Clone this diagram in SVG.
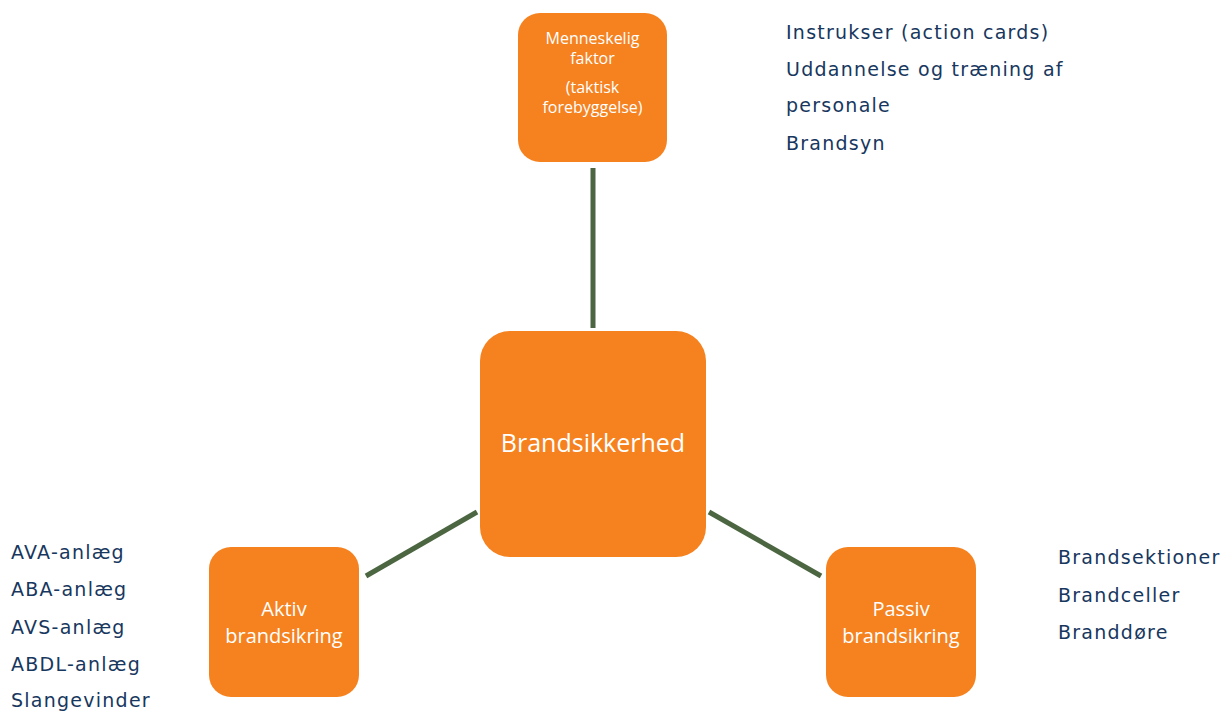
<svg xmlns="http://www.w3.org/2000/svg" width="1224" height="711" viewBox="0 0 1224 711">
<style>
.box{fill:#F5821F;}
.bt{font-family:"Open Sans","Noto Sans",sans-serif;fill:#ffffff;text-anchor:middle;}
.lt{font-family:"DejaVu Sans","Verdana",sans-serif;font-size:19px;letter-spacing:1.25px;fill:#17375E;}
.con{stroke:#4B6641;stroke-width:5;fill:none;}
</style>
<rect width="1224" height="711" fill="#ffffff"/>
<g id="connectors">
<line class="con" x1="593" y1="168" x2="593" y2="328"/>
<line class="con" x1="366" y1="576" x2="477" y2="512"/>
<line class="con" x1="709" y1="512" x2="821" y2="576"/>
</g>
<g id="node-menneskelig">
<rect class="box" x="518" y="13" width="149" height="149" rx="22"/>
<text class="bt" font-size="16"><tspan x="592.5" y="44">Menneskelig</tspan><tspan x="592.5" y="64">faktor</tspan><tspan x="592.5" y="93">(taktisk</tspan><tspan x="592.5" y="113">forebyggelse)</tspan></text>
</g>
<g id="node-brandsikkerhed">
<rect class="box" x="480" y="331" width="226" height="226" rx="30"/>
<text class="bt" font-size="25" x="593" y="452">Brandsikkerhed</text>
</g>
<g id="node-aktiv">
<rect class="box" x="209" y="547" width="150" height="150" rx="22"/>
<text class="bt" font-size="20"><tspan x="284" y="616">Aktiv</tspan><tspan x="284" y="643">brandsikring</tspan></text>
</g>
<g id="node-passiv">
<rect class="box" x="826" y="547" width="150" height="150" rx="22"/>
<text class="bt" font-size="20"><tspan x="901" y="616">Passiv</tspan><tspan x="901" y="643">brandsikring</tspan></text>
</g>
<g id="list-menneskelig">
<text class="lt"><tspan x="786" y="39">Instrukser (action cards)</tspan><tspan x="786" y="76">Uddannelse og træning af</tspan><tspan x="786" y="112">personale</tspan><tspan x="786" y="150">Brandsyn</tspan></text>
</g>
<g id="list-aktiv">
<text class="lt"><tspan x="11" y="559">AVA-anlæg</tspan><tspan x="11" y="596">ABA-anlæg</tspan><tspan x="11" y="634">AVS-anlæg</tspan><tspan x="11" y="671">ABDL-anlæg</tspan><tspan x="11" y="707">Slangevinder</tspan></text>
</g>
<g id="list-passiv">
<text class="lt"><tspan x="1058" y="564">Brandsektioner</tspan><tspan x="1058" y="602">Brandceller</tspan><tspan x="1058" y="639">Branddøre</tspan></text>
</g>
</svg>
